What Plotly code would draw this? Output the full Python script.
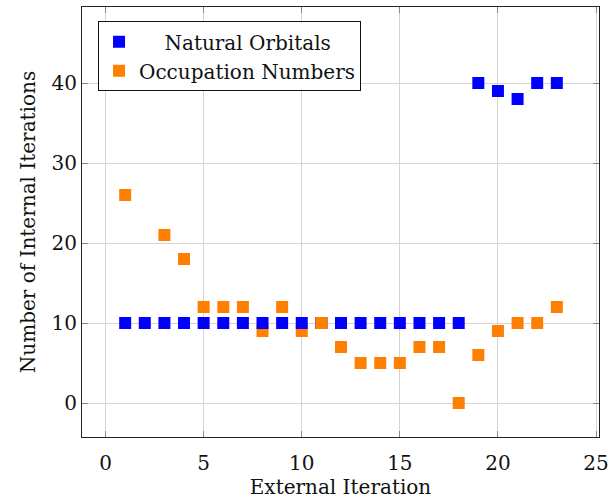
import plotly.graph_objects as go

iterations = list(range(1, 24))
natural_orbitals = [10, 10, 10, 10, 10, 10, 10, 10, 10, 10, 10, 10, 10, 10, 10, 10, 10, 10, 40, 39, 38, 40, 40]
occupation_iters = [1, 3, 4, 5, 6, 7, 8, 9, 10, 11, 12, 13, 14, 15, 16, 17, 18, 19, 20, 21, 22, 23]
occupation_numbers = [26, 21, 18, 12, 12, 12, 9, 12, 9, 10, 7, 5, 5, 5, 7, 7, 0, 6, 9, 10, 10, 12]

BLUE = "#0000ff"
ORANGE = "#ff8000"
FONT = "DejaVu Serif"

fig = go.Figure()
fig.add_trace(go.Scatter(x=occupation_iters, y=occupation_numbers, mode="markers",
                         name="Occupation Numbers", legendrank=2,
                         marker=dict(symbol="square", size=12, color=ORANGE)))
fig.add_trace(go.Scatter(x=iterations, y=natural_orbitals, mode="markers",
                         name="\u00a0\u00a0\u00a0\u00a0Natural Orbitals", legendrank=1,
                         marker=dict(symbol="square", size=12, color=BLUE)))
# point at iteration 11 where the orange marker is drawn over the blue one
i11 = occupation_iters.index(11)
fig.add_trace(go.Scatter(x=[occupation_iters[i11]], y=[occupation_numbers[i11]], mode="markers",
                         showlegend=False,
                         marker=dict(symbol="square", size=12, color=ORANGE)))

axis_common = dict(showgrid=True, gridcolor="#d4d4d4", gridwidth=1,
                   showline=True, linecolor="#222", linewidth=1, mirror="ticks",
                   ticks="inside", ticklen=6, tickcolor="#888", zeroline=False,
                   automargin=False,
                   tickfont=dict(family=FONT, size=20, color="#111"))

fig.update_layout(
    width=616, height=499,
    margin=dict(l=82, r=17, t=7, b=62),
    plot_bgcolor="white", paper_bgcolor="white",
    font=dict(family=FONT, size=20, color="#111"),
    xaxis=dict(range=[-1.2, 25.15], tickvals=[0, 5, 10, 15, 20, 25],
               ticklabelstandoff=8,
               title=dict(text="External Iteration", font=dict(family=FONT, size=20), standoff=10),
               **axis_common),
    yaxis=dict(range=[-4.25, 49.5], tickvals=[0, 10, 20, 30, 40],
               title=dict(text="Number of Internal Iterations", font=dict(family=FONT, size=20), standoff=10),
               **axis_common),
    legend=dict(x=0.031, y=0.967, xanchor="left", yanchor="top",
                bordercolor="#111", borderwidth=1, bgcolor="white",
                font=dict(family=FONT, size=20), itemwidth=30,
                tracegroupgap=0),
    showlegend=True,
)

fig.write_html("out.html")
